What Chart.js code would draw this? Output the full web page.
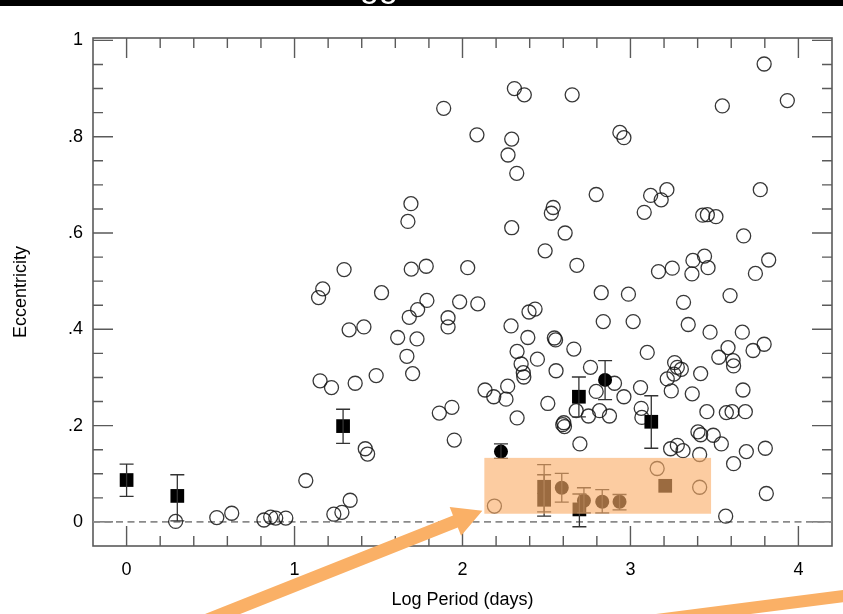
<!DOCTYPE html>
<html>
<head>
<meta charset="utf-8">
<script src="https://cdn.jsdelivr.net/npm/chart.js@4.4.1/dist/chart.umd.min.js"></script>
<style>
  html, body { margin: 0; padding: 0; background: #fff; }
  canvas { display: block; }
</style>
</head>
<body>
<canvas id="chart" width="843" height="614"></canvas>
<script>
// [log period, eccentricity] of the open circles
const openCircles = [
  [1.888, 0.859], [2.086, 0.804], [1.693, 0.661], [1.675, 0.624], [1.295, 0.524],
  [1.695, 0.525], [1.784, 0.531], [2.031, 0.528], [1.168, 0.484], [1.143, 0.466],
  [1.518, 0.476], [1.788, 0.460], [1.983, 0.457], [2.091, 0.453], [1.733, 0.441],
  [1.683, 0.425], [1.914, 0.424], [1.914, 0.405], [1.413, 0.405], [3.796, 0.951],
  [2.309, 0.900], [2.368, 0.887], [2.653, 0.887], [3.547, 0.864], [3.934, 0.875],
  [2.293, 0.795], [2.271, 0.762], [2.323, 0.724], [2.937, 0.809], [2.961, 0.798],
  [2.796, 0.680], [3.120, 0.678], [3.183, 0.669], [3.217, 0.690], [3.773, 0.690],
  [3.082, 0.643], [2.540, 0.653], [2.529, 0.641], [2.293, 0.611], [2.611, 0.600],
  [2.492, 0.563], [3.430, 0.637], [3.458, 0.638], [3.509, 0.634], [3.674, 0.594],
  [2.681, 0.533], [3.167, 0.520], [3.249, 0.527], [3.372, 0.543], [3.441, 0.552],
  [3.462, 0.528], [3.366, 0.515], [3.823, 0.544], [3.744, 0.516], [2.396, 0.436],
  [2.432, 0.442], [2.826, 0.476], [2.988, 0.473], [3.316, 0.456], [3.593, 0.470],
  [1.325, 0.399], [1.614, 0.383], [1.729, 0.380], [1.669, 0.344], [1.703, 0.308],
  [1.152, 0.293], [1.220, 0.279], [1.361, 0.288], [1.486, 0.304], [1.421, 0.152],
  [1.435, 0.141], [1.862, 0.226], [1.937, 0.238], [1.951, 0.170], [2.289, 0.407],
  [2.389, 0.383], [2.547, 0.382], [2.554, 0.378], [2.663, 0.359], [2.838, 0.416],
  [3.016, 0.416], [3.344, 0.410], [3.474, 0.394], [2.325, 0.354], [2.446, 0.338],
  [2.349, 0.328], [2.362, 0.310], [2.365, 0.301], [2.557, 0.314], [2.762, 0.321],
  [3.100, 0.352], [3.263, 0.331], [3.279, 0.321], [3.303, 0.317], [3.259, 0.307],
  [3.219, 0.297], [3.418, 0.308], [3.526, 0.342], [2.134, 0.274], [2.186, 0.260],
  [2.269, 0.282], [2.259, 0.255], [2.508, 0.246], [2.325, 0.216], [2.796, 0.271],
  [2.905, 0.288], [2.961, 0.260], [3.060, 0.279], [3.064, 0.236], [3.068, 0.217],
  [3.243, 0.272], [3.368, 0.266], [3.455, 0.229], [2.677, 0.231], [2.750, 0.220],
  [2.816, 0.231], [2.875, 0.220], [2.603, 0.206], [2.607, 0.198], [2.597, 0.202],
  [2.699, 0.162], [3.402, 0.187], [3.418, 0.181], [3.493, 0.180], [3.239, 0.152],
  [3.279, 0.159], [3.313, 0.148], [3.412, 0.140], [3.541, 0.162], [3.666, 0.394],
  [3.581, 0.362], [3.611, 0.335], [3.614, 0.324], [3.730, 0.356], [3.796, 0.369],
  [3.670, 0.274], [3.571, 0.227], [3.605, 0.229], [3.684, 0.229], [3.690, 0.146],
  [3.803, 0.153], [3.614, 0.121], [3.412, 0.072], [3.809, 0.059], [3.567, 0.012],
  [3.159, 0.111], [2.190, 0.033], [0.292, 0.001], [0.537, 0.009], [0.626, 0.018],
  [0.818, 0.004], [0.858, 0.010], [0.888, 0.008], [0.948, 0.008], [1.067, 0.086],
  [1.234, 0.016], [1.282, 0.020], [1.331, 0.045]
];

// filled squares: [log period, eccentricity, error low, error high]
const squares = [
  [0.000, 0.087, 0.053, 0.120],
  [0.302, 0.054, 0.002, 0.098],
  [1.289, 0.199, 0.163, 0.234],
  [2.693, 0.260, 0.218, 0.301],
  [3.124, 0.208, 0.153, 0.262],
  [2.486, 0.073, 0.021, 0.119],
  [2.486, 0.046, 0.012, 0.098],
  [3.207, 0.075, null, null],
  [2.696, 0.026, -0.010, 0.058]
];

// filled circles: [log period, eccentricity, error low, error high]
const dots = [
  [2.849, 0.295, 0.254, 0.335],
  [2.229, 0.146, 0.132, 0.162],
  [2.591, 0.071, 0.041, 0.101],
  [2.723, 0.044, 0.019, 0.071],
  [2.832, 0.042, 0.019, 0.067],
  [2.935, 0.042, 0.025, 0.057]
];

const xTicks = [0, 1, 2, 3, 4];
const yTicks = [0, 0.2, 0.4, 0.6, 0.8, 1];
const yTickLabels = ["0", ".2", ".4", ".6", ".8", "1"];

// highlighted region (log period / eccentricity)
const highlight = { x0: 2.13, x1: 3.48, y0: 0.017, y1: 0.133 };

const FONT = "'Liberation Sans', Arial, Helvetica, sans-serif";
const ORANGE = "#fab066";

function toPoints(rows) {
  return rows.map(r => ({ x: r[0], y: r[1] }));
}

// box frame + inward ticks on all four sides
const framePlugin = {
  id: "frame",
  beforeDatasetsDraw(chart) {
    const { ctx, chartArea: a, scales: { x, y } } = chart;
    ctx.save();
    ctx.strokeStyle = "#5a5a5a";
    ctx.lineWidth = 1.4;
    ctx.beginPath();
    for (let k = 0; k <= 20; k++) {
      const px = x.getPixelForValue(k / 5);
      const len = k % 5 === 0 ? 20 : 10;
      ctx.moveTo(px, a.bottom); ctx.lineTo(px, a.bottom - len);
      ctx.moveTo(px, a.top); ctx.lineTo(px, a.top + len);
    }
    for (let k = 0; k <= 20; k++) {
      const py = y.getPixelForValue(k / 20);
      const len = k % 4 === 0 ? 20 : 10;
      ctx.moveTo(a.left, py); ctx.lineTo(a.left + len, py);
      ctx.moveTo(a.right, py); ctx.lineTo(a.right - len, py);
    }
    ctx.stroke();
    ctx.lineWidth = 1.6;
    ctx.strokeRect(a.left, a.top, a.right - a.left, a.bottom - a.top);
    ctx.restore();
  }
};

function drawErrorBars(ctx, rows, x, y) {
  rows.forEach(r => {
    if (r[2] === null) return;
    const px = x.getPixelForValue(r[0]);
    const lo = y.getPixelForValue(r[2]);
    const hi = y.getPixelForValue(r[3]);
    ctx.beginPath();
    ctx.moveTo(px, lo); ctx.lineTo(px, hi);
    ctx.moveTo(px - 7, lo); ctx.lineTo(px + 7, lo);
    ctx.moveTo(px - 7, hi); ctx.lineTo(px + 7, hi);
    ctx.stroke();
  });
}

function drawArrow(ctx, x0, y0, x1, y1, w, headLen, headW) {
  const len = Math.hypot(x1 - x0, y1 - y0);
  ctx.save();
  ctx.translate(x1, y1);
  ctx.rotate(Math.atan2(y1 - y0, x1 - x0));
  ctx.beginPath();
  ctx.moveTo(0, 0);
  ctx.lineTo(-headLen, -headW / 2);
  ctx.lineTo(-headLen, -w / 2);
  ctx.lineTo(-len, -w / 2);
  ctx.lineTo(-len, w / 2);
  ctx.lineTo(-headLen, w / 2);
  ctx.lineTo(-headLen, headW / 2);
  ctx.closePath();
  ctx.fill();
  ctx.restore();
}

const overlayPlugin = {
  id: "overlay",
  afterDatasetsDraw(chart) {
    const { ctx, scales: { x, y } } = chart;
    ctx.save();
    ctx.strokeStyle = "#333";
    ctx.lineWidth = 1.3;
    drawErrorBars(ctx, squares, x, y);
    drawErrorBars(ctx, dots, x, y);

    // translucent highlight over the points
    const bx0 = x.getPixelForValue(highlight.x0);
    const bx1 = x.getPixelForValue(highlight.x1);
    const by0 = y.getPixelForValue(highlight.y0);
    const by1 = y.getPixelForValue(highlight.y1);
    ctx.fillStyle = "rgba(250,172,103,0.62)";
    ctx.fillRect(bx0, by1, bx1 - bx0, by0 - by1);
    ctx.restore();
  },
  afterDraw(chart) {
    const { ctx, scales: { x, y } } = chart;
    const tipX = x.getPixelForValue(highlight.x0) - 2;
    const tipY = y.getPixelForValue(highlight.y0) - 3;
    ctx.save();
    ctx.fillStyle = ORANGE;
    drawArrow(ctx, 205, 621, tipX, tipY, 13, 29, 31);
    ctx.strokeStyle = ORANGE;
    ctx.lineWidth = 12;
    ctx.beginPath();
    ctx.moveTo(625, 624);
    ctx.lineTo(860, 594);
    ctx.stroke();

    // cut-off slide title band
    ctx.fillStyle = "#000";
    ctx.fillRect(0, 0, chart.width, 6);
    ctx.beginPath();
    ctx.rect(0, 0, chart.width, 6);
    ctx.clip();
    ctx.fillStyle = "#fff";
    ctx.font = "34px " + FONT;
    ctx.textBaseline = "alphabetic";
    ctx.fillText("gg", 360, -3);
    ctx.restore();
  }
};

new Chart(document.getElementById("chart"), {
  type: "scatter",
  data: {
    datasets: [
      {
        data: toPoints(dots),
        order: 1,
        pointStyle: "circle",
        pointRadius: 7,
        backgroundColor: "#000",
        borderColor: "#000",
        borderWidth: 0
      },
      {
        data: toPoints(squares),
        order: 2,
        pointStyle: "rect",
        pointRadius: 9.7,
        backgroundColor: "#000",
        borderColor: "#000",
        borderWidth: 0
      },
      {
        data: toPoints(openCircles),
        order: 3,
        pointStyle: "circle",
        pointRadius: 7,
        backgroundColor: "rgba(0,0,0,0)",
        borderColor: "rgba(20,20,20,0.85)",
        borderWidth: 1.3
      },
      {
        type: "line",
        data: [{ x: -0.2, y: 0 }, { x: 4.2, y: 0 }],
        order: 4,
        borderColor: "#8a8a8a",
        borderWidth: 1.6,
        borderDash: [7, 4.5],
        pointRadius: 0
      }
    ]
  },
  options: {
    responsive: false,
    animation: false,
    devicePixelRatio: 1,
    layout: { padding: { top: 38, right: 11, left: 0, bottom: 0 } },
    plugins: {
      legend: { display: false },
      tooltip: { enabled: false }
    },
    scales: {
      x: {
        type: "linear",
        min: -0.2,
        max: 4.2,
        grid: { display: false, drawTicks: false },
        border: { display: false },
        afterBuildTicks: s => { s.ticks = xTicks.map(v => ({ value: v })); },
        afterFit: s => { s.height = 68; },
        ticks: {
          color: "#000",
          font: { family: FONT, size: 18 },
          padding: 13,
          maxRotation: 0,
          callback: v => String(v)
        },
        title: {
          display: true,
          text: "Log Period (days)",
          color: "#000",
          font: { family: FONT, size: 18 },
          padding: { top: 0, bottom: 3 }
        }
      },
      y: {
        type: "linear",
        min: -0.05,
        max: 1.005,
        grid: { display: false, drawTicks: false },
        border: { display: false },
        afterBuildTicks: s => { s.ticks = yTicks.map(v => ({ value: v })); },
        afterFit: s => { s.width = 93; },
        ticks: {
          color: "#000",
          font: { family: FONT, size: 18 },
          padding: 10,
          callback: (v, i) => yTickLabels[i]
        },
        title: {
          display: true,
          text: "Eccentricity",
          color: "#000",
          font: { family: FONT, size: 18 },
          padding: { top: 10, bottom: 0 }
        }
      }
    }
  },
  plugins: [framePlugin, overlayPlugin]
});
</script>
</body>
</html>
